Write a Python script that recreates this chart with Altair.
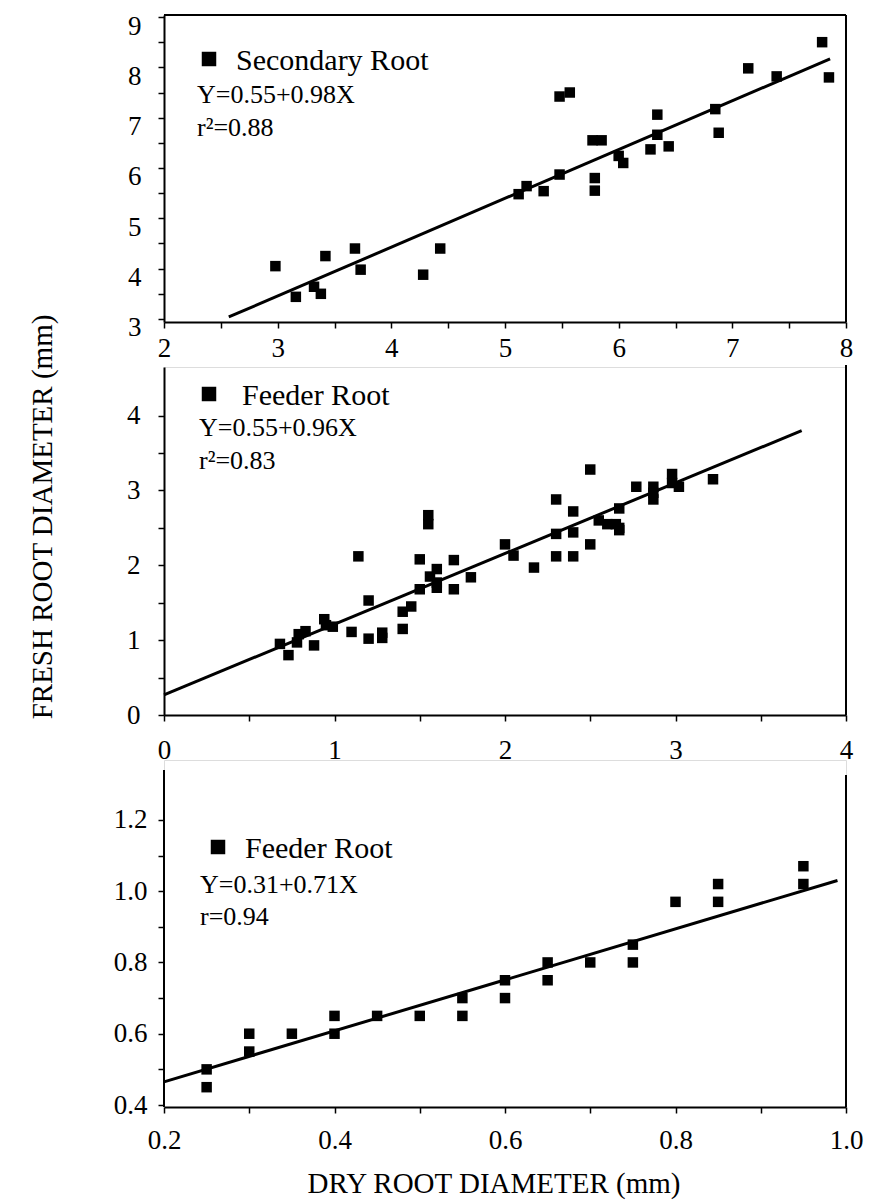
import altair as alt
import pandas as pd

FONT = "Liberation Serif"
W = 682

# ---------------- data ----------------
# Panel 1: secondary root
sec_dry = [2.98, 3.16, 3.32, 3.38, 3.42, 3.68, 3.73, 4.28, 4.43, 5.12, 5.19, 5.34, 5.48,
           5.48, 5.57, 5.77, 5.85, 5.79, 5.79, 6.00, 6.04, 6.28, 6.34, 6.34, 6.44, 6.85,
           6.88, 7.14, 7.39, 7.79, 7.85]
sec_fresh = [4.05, 3.44, 3.64, 3.50, 4.25, 4.40, 3.98, 3.88, 4.40, 5.48, 5.64, 5.54, 5.87,
             7.42, 7.50, 6.55, 6.55, 5.80, 5.55, 6.24, 6.10, 6.37, 7.06, 6.66, 6.43, 7.17,
             6.70, 7.98, 7.82, 8.50, 7.80]
sec_line_x = [2.57, 7.86]
sec_line_y = [3.04, 8.17]

# Panel 2: feeder root
feed_dry = [0.68, 0.73, 0.78, 0.79, 0.83, 0.88, 0.94, 0.95, 0.99, 1.10, 1.14, 1.20, 1.20,
            1.28, 1.28, 1.40, 1.40, 1.45, 1.50, 1.50, 1.55, 1.55, 1.56, 1.60, 1.60, 1.60,
            1.70, 1.70, 1.80, 2.00, 2.05, 2.17, 2.30, 2.30, 2.30, 2.40, 2.40, 2.40, 2.50,
            2.50, 2.55, 2.60, 2.65, 2.67, 2.67, 2.67, 2.77, 2.87, 2.87, 2.87, 2.98, 2.98,
            3.02, 3.22]
feed_fresh = [0.95, 0.80, 0.97, 1.08, 1.12, 0.93, 1.28, 1.20, 1.18, 1.11, 2.12, 1.02, 1.53,
              1.03, 1.10, 1.15, 1.38, 1.45, 1.68, 2.08, 2.67, 2.55, 1.85, 1.77, 1.95, 1.70,
              2.07, 1.68, 1.84, 2.28, 2.13, 1.97, 2.88, 2.42, 2.12, 2.72, 2.44, 2.12, 3.28,
              2.28, 2.60, 2.55, 2.55, 2.76, 2.50, 2.47, 3.05, 2.97, 2.88, 3.05, 3.22, 3.10,
              3.05, 3.15]
feed_line_x = [0.0, 3.74]
feed_line_y = [0.27, 3.80]

# Panel 3: feeder root (fine)
fine_dry = [0.25, 0.25, 0.30, 0.30, 0.35, 0.40, 0.40, 0.45, 0.50, 0.55, 0.55, 0.60, 0.60,
            0.65, 0.65, 0.70, 0.75, 0.75, 0.80, 0.85, 0.85, 0.95, 0.95]
fine_fresh = [0.50, 0.45, 0.60, 0.55, 0.60, 0.65, 0.60, 0.65, 0.65, 0.70, 0.65, 0.75, 0.70,
              0.80, 0.75, 0.80, 0.85, 0.80, 0.97, 1.02, 0.97, 1.07, 1.02]
fine_line_x = [0.2, 0.99]
fine_line_y = [0.465, 1.03]

# axis ticks
p1_xticks = [2, 2.5, 3, 3.5, 4, 4.5, 5, 5.5, 6, 6.5, 7, 7.5, 8]
p1_yticks = [3, 3.5, 4, 4.5, 5, 5.5, 6, 6.5, 7, 7.5, 8, 8.5, 9]
p2_xticks = [0, 0.5, 1, 1.5, 2, 2.5, 3, 3.5, 4]
p2_yticks = [0, 0.5, 1, 1.5, 2, 2.5, 3, 3.5, 4]
p3_xticks = [0.2, 0.3, 0.4, 0.5, 0.6, 0.7, 0.8, 0.9, 1.0]
p3_yticks = [0.4, 0.5, 0.6, 0.7, 0.8, 0.9, 1.0, 1.1, 1.2]

INT_LABEL = "datum.value % 1 === 0 ? format(datum.value, 'd') : ''"
EVEN_TENTH = "abs(round(datum.value * 10)) % 2 === 0 ? format(datum.value, '.1f') : ''"

TICK_FS = 27
LEGEND_FS = 30
EQ_FS = 26
TITLE_FS = 29


def axis(values, expr, pad, domain=True, offset=0):
    kw = dict(values=values, labelExpr=expr, title=None, grid=False, tickSize=6,
              tickWidth=1.5, tickColor="black", domain=domain, domainColor="black",
              domainWidth=2, labelFont=FONT, labelFontSize=TICK_FS, labelColor="black",
              labelPadding=pad, labelOverlap=False, labelFlush=False)
    if offset:
        kw["labelOffset"] = offset
    return alt.Axis(**kw)


def text(label, x, y, size, align="left", angle=None):
    kw = dict(font=FONT, fontSize=size, align=align, baseline="middle", color="black")
    if angle is not None:
        kw["angle"] = angle
    return alt.Chart(pd.DataFrame({"t": [label]})).mark_text(**kw).encode(
        text="t:N", x=alt.value(x), y=alt.value(y))


def rule(**enc):
    return alt.Chart(pd.DataFrame({"r": [0]})).mark_rule(
        color="black", strokeWidth=2).encode(**enc)


def square(x, y):
    return alt.Chart(pd.DataFrame({"s": [0]})).mark_point(
        shape="square", filled=True, size=210, color="black", opacity=1).encode(
        x=alt.value(x), y=alt.value(y))


def panel(px, py, lx, ly, xdom, ydom, xax, yax, height, extra):
    X = alt.X("x:Q", scale=alt.Scale(domain=xdom, nice=False, zero=False), axis=xax)
    Y = alt.Y("y:Q", scale=alt.Scale(domain=ydom, nice=False, zero=False), axis=yax)
    pts = alt.Chart(pd.DataFrame({"x": px, "y": py})).mark_point(
        shape="square", filled=True, size=110, color="black", opacity=1).encode(x=X, y=Y)
    line = alt.Chart(pd.DataFrame({"x": lx, "y": ly})).mark_line(
        color="black", strokeWidth=3).encode(x=X, y=Y)
    return alt.layer(pts, line, *extra).properties(width=W, height=height)


H1, H2, H3 = 307, 348, 347

p1 = panel(
    sec_dry, sec_fresh, sec_line_x, sec_line_y, [2, 8], [2.94, 9.04],
    axis(p1_xticks, INT_LABEL, 7), axis(p1_yticks, INT_LABEL, 17, offset=9), H1,
    [rule(x=alt.value(0), x2=alt.value(W), y=alt.value(0)),
     rule(x=alt.value(W), y=alt.value(0), y2=alt.value(H1)),
     square(45, 44),
     text("Secondary Root", 72, 46, LEGEND_FS),
     text("Y=0.55+0.98X", 33, 80, EQ_FS),
     text("r²=0.88", 33, 113, EQ_FS)])

p2 = panel(
    feed_dry, feed_fresh, feed_line_x, feed_line_y, [0, 4], [0, 4.65],
    axis(p2_xticks, INT_LABEL, 16), axis(p2_yticks, INT_LABEL, 18), H2,
    [rule(x=alt.value(W), y=alt.value(-2), y2=alt.value(H2)),
     square(45, 27),
     text("Feeder Root", 78, 29, LEGEND_FS),
     text("Y=0.55+0.96X", 35, 61, EQ_FS),
     text("r²=0.83", 35, 94, EQ_FS),
     text("FRESH ROOT DIAMETER (mm)", -121, 150, TITLE_FS, align="center", angle=270)])

p3 = panel(
    fine_dry, fine_fresh, fine_line_x, fine_line_y, [0.2, 1.0], [0.3944, 1.368],
    axis(p3_xticks, EVEN_TENTH, 14), axis(p3_yticks, EVEN_TENTH, 11, domain=False), H3,
    [rule(x=alt.value(0), y=alt.value(10), y2=alt.value(H3)),
     rule(x=alt.value(W), y=alt.value(15), y2=alt.value(H3)),
     square(54, 87),
     text("Feeder Root", 81, 89, LEGEND_FS),
     text("Y=0.31+0.71X", 36, 125, EQ_FS),
     text("r=0.94", 36, 157, EQ_FS),
     text("DRY ROOT DIAMETER (mm)", 330, 424, TITLE_FS, align="center")])

chart = alt.vconcat(p1, p2, p3, spacing=45, bounds="flush").properties(
    padding={"left": 20, "top": 3, "right": 5, "bottom": 0}
).configure_view(stroke=None).configure(background="white")

chart.save("out.html", embed_options={"renderer": "svg", "actions": False})
